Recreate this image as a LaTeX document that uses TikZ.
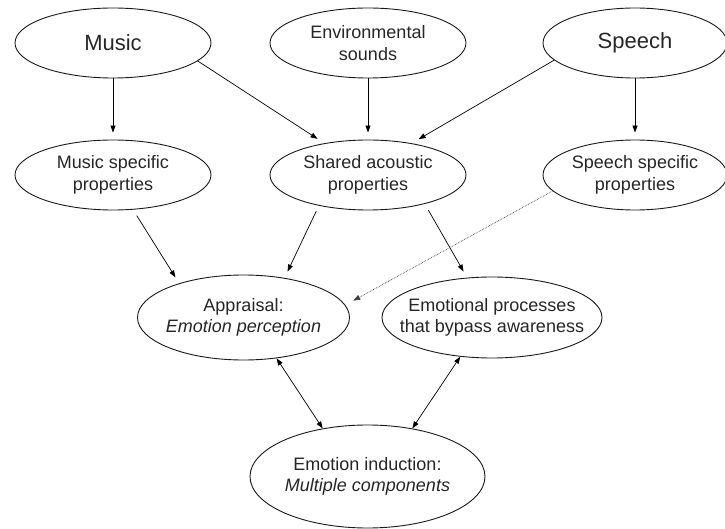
\documentclass[tikz,border=0pt]{standalone}
\usepackage{fontspec}
\setmainfont{Liberation Sans}
\usetikzlibrary{shapes.geometric,arrows.meta}
\begin{document}
\begin{tikzpicture}[x=1pt,y=-1pt,
  ell/.style={ellipse, draw=black!90, line width=0.9pt, inner sep=0pt},
  txt/.style={align=center, font=\fontsize{18}{21.5}\selectfont, text=black!85},
  big/.style={font=\fontsize{22}{26}\selectfont, text=black!85},
  tip/.style={-{Triangle[length=7pt,width=5pt]}},
  conn/.style={line width=0.7pt, tip},
  both/.style={line width=0.7pt, {Triangle[length=7pt,width=5pt]}-{Triangle[length=7pt,width=5pt]}},
  dotc/.style={line width=0.7pt, densely dotted, black!75, tip}]
\useasboundingbox (0,0) rectangle (725,529);

% top row
\node[ell, minimum width=196pt, minimum height=70pt, label={[big]center:Music}] (music) at (113,43) {};
\node[ell, minimum width=196pt, minimum height=70pt, label={[txt]center:{Environmental\\sounds}}] (env) at (368,43) {};
\node[ell, minimum width=184pt, minimum height=70pt, label={[big]center:Speech}] (speech) at (635,43) {};

% second row
\node[ell, minimum width=196pt, minimum height=70pt, label={[txt]center:{Music specific\\properties}}] (musicspec) at (113,175) {};
\node[ell, minimum width=196pt, minimum height=70pt, label={[txt]center:{Shared acoustic\\properties}}] (shared) at (368,175) {};
\node[ell, minimum width=184pt, minimum height=70pt, label={[txt]center:{Speech specific\\properties}}] (speechspec) at (635,175) {};

% third row
\node[ell, minimum width=212pt, minimum height=85pt, label={[txt]center:{Appraisal:\\\textit{Emotion perception}}}] (appr) at (243.5,317.5) {};
\node[ell, minimum width=220pt, minimum height=81pt, label={[txt]center:{Emotional processes\\that bypass awareness}}] (emo) at (492,317.5) {};

% bottom
\node[ell, minimum width=235pt, minimum height=103pt, label={[txt]center:{Emotion induction:\\\textit{Multiple components}}}] (induct) at (367.5,476.5) {};

% connectors
\draw[conn, shorten >=7pt] (music.south) -- (musicspec.north);
\draw[conn, shorten >=7pt] (env.south) -- (shared.north);
\draw[conn, shorten >=7pt] (speech.south) -- (speechspec.north);
\draw[conn, shorten >=8pt] (music.-12) -- (shared.144);
\draw[conn, shorten >=8pt] (speech.192) -- (shared.36);

\draw[conn, shorten <=7pt, shorten >=7pt] (musicspec.-60) -- (appr.152.7);
\draw[conn, shorten <=6pt, shorten >=7pt] (shared.-148.5) -- (appr.44);
\draw[conn, shorten <=7pt, shorten >=7pt] (shared.-27.6) -- (emo.122.5);
\draw[dotc, shorten >=9pt] (speechspec.191) -- (appr.7.3);

\draw[both] (appr.-51.8) -- (induct.133);
\draw[both] (emo.-129.5) -- (induct.47.5);
\end{tikzpicture}
\end{document}
